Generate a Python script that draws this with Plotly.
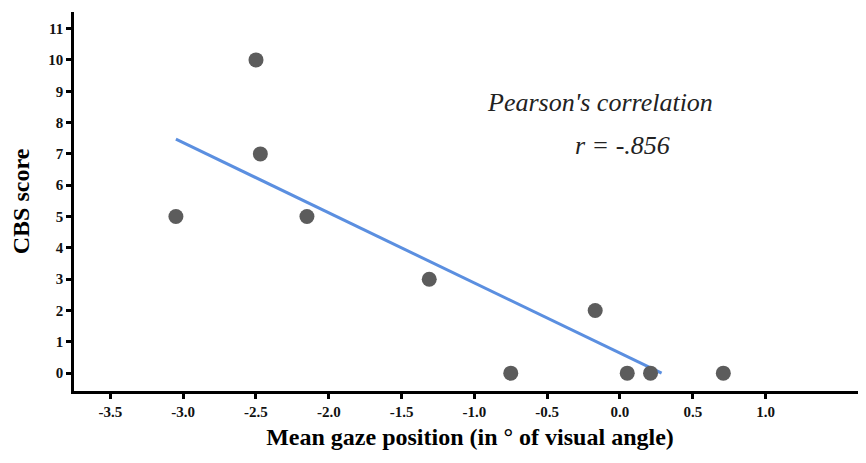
import numpy as np
import plotly.graph_objects as go

# Data
gaze = [-3.05, -2.50, -2.47, -2.15, -1.31, -0.75, -0.17, 0.05, 0.21, 0.71]
cbs = [5, 10, 7, 5, 3, 0, 2, 0, 0, 0]
x_ticks = [-3.5, -3.0, -2.5, -2.0, -1.5, -1.0, -0.5, 0.0, 0.5, 1.0]
x_tick_labels = ["-3.5", "-3.0", "-2.5", "-2.0", "-1.5", "-1.0", "-0.5", "0.0", "0.5", "1.0"]
y_ticks = list(range(0, 12))

# Linear fit (clipped to y >= 0 like the reference)
slope, intercept = np.polyfit(gaze, cbs, 1)
x_end = -intercept / slope
fit_x = np.linspace(min(gaze), min(max(gaze), x_end), 50)
fit_y = slope * fit_x + intercept

fig = go.Figure()
fig.add_trace(go.Scatter(x=fit_x, y=fit_y, mode="lines",
                         line=dict(color="#5b8fe0", width=3), hoverinfo="skip"))
fig.add_trace(go.Scatter(x=gaze, y=cbs, mode="markers",
                         marker=dict(size=15, color="#5c5c5c")))

serif = "Liberation Serif"
tickfont = dict(family=serif, size=15, color="#111", weight="bold")
fig.update_layout(
    width=858, height=455,
    margin=dict(l=66, r=0, t=4, b=72),
    plot_bgcolor="white", paper_bgcolor="white",
    showlegend=False,
    font=dict(family=serif, color="black"),
    xaxis=dict(range=[-3.75, 1.69], tickvals=x_ticks, ticktext=x_tick_labels,
               showgrid=False, zeroline=False, showline=True, linecolor="black", linewidth=2.5,
               ticks="outside", ticklen=5, tickwidth=2.5, tickcolor="black",
               tickfont=tickfont, automargin=False,
               title=dict(text="Mean gaze position (in ° of visual angle)",
                          font=dict(family=serif, size=24, color="black", weight="bold"),
                          standoff=10)),
    yaxis=dict(range=[-0.57, 11.53], tickvals=y_ticks,
               showgrid=False, zeroline=False, showline=True, linecolor="black", linewidth=2.5,
               ticks="outside", ticklen=5, tickwidth=2.5, tickcolor="black",
               tickfont=tickfont, automargin=False,
               title=dict(text="CBS score",
                          font=dict(family=serif, size=24, color="black", weight="bold"),
                          standoff=14)),
)

fig.add_annotation(x=-0.14, y=8.63, xref="x", yref="y", showarrow=False,
                   text="Pearson's correlation",
                   font=dict(family=serif, size=26, color="#222", style="italic"))
fig.add_annotation(x=0.02, y=7.28, xref="x", yref="y", showarrow=False,
                   text="r = -.856",
                   font=dict(family=serif, size=26, color="#222", style="italic"))

fig.write_html("out.html")
